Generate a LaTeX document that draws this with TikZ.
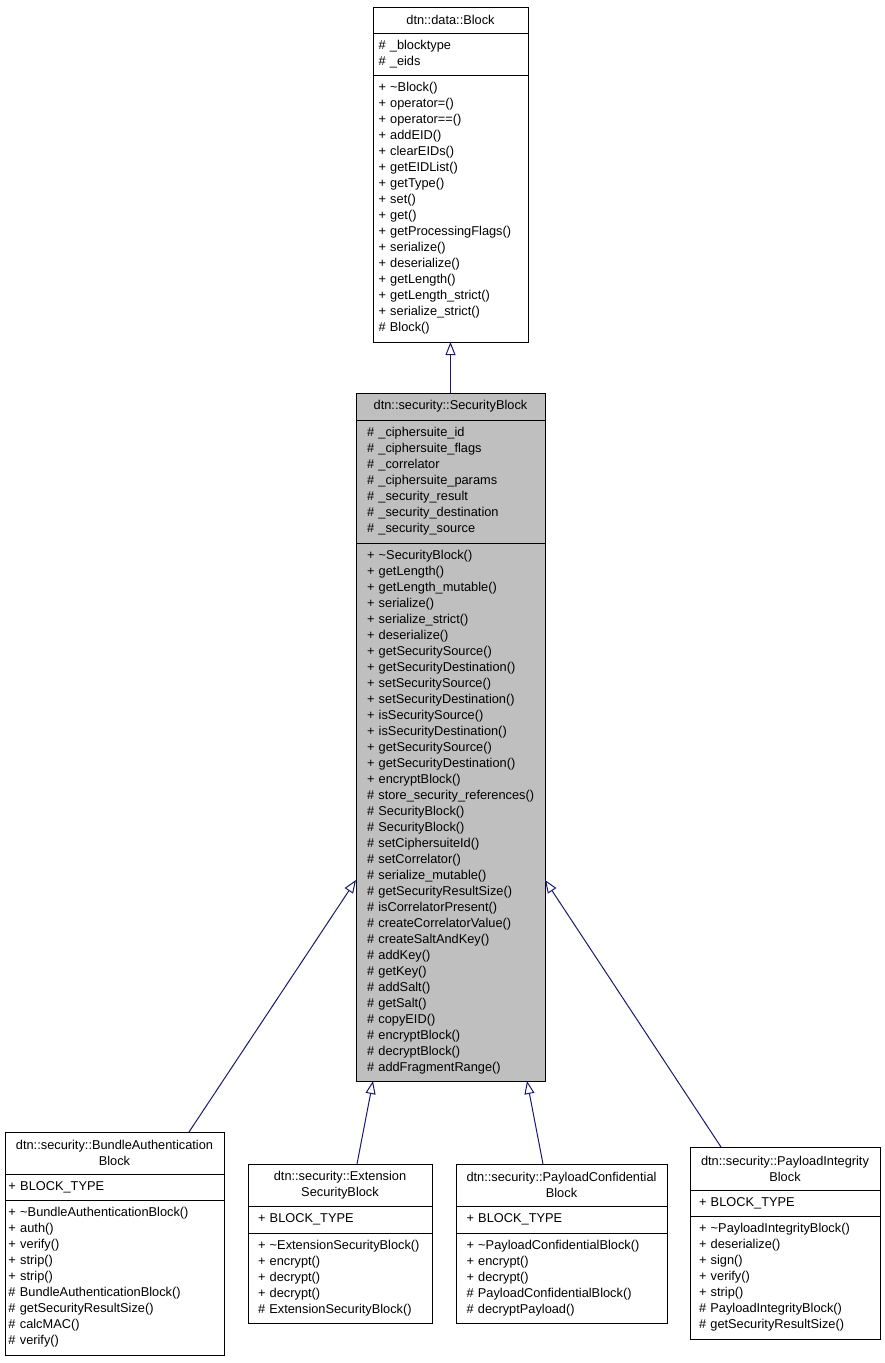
\documentclass[tikz,border=0pt]{standalone}
\usepackage{fontspec}
\setmainfont{Liberation Sans}
\usepackage{tikz}
\usetikzlibrary{arrows.meta,positioning}
\definecolor{edgeblue}{HTML}{191970}
\definecolor{focusgrey}{HTML}{BFBFBF}
\newcommand{\umlfont}{\fontsize{12.8}{16}\selectfont\hyphenpenalty=10000\exhyphenpenalty=10000}
\newcommand{\dtor}{\textasciitilde}

\begin{document}
\begin{tikzpicture}[x=1pt,y=-1pt,
  cell/.style={draw=black,line width=0.9pt,fill=#1,outer sep=0pt,inner ysep=1pt,font=\umlfont},
  ttl/.style n args={3}{cell=#3,align=center,inner xsep=4pt,text width=#1,minimum height=#2,anchor=north west},
  mem/.style n args={4}{cell=#4,align=left,inner xsep=#2,text width=#1,minimum height=#3},
  gen/.style={draw=edgeblue,line width=1pt,-{Triangle[length=13pt,width=10pt,fill=white]}}]
  \useasboundingbox (0,0) rectangle (885,1363);
  % base class
  \node[ttl={147pt}{26pt}{white}] (blkT) at (373,7) {dtn::data::Block};
  \node[mem={144pt}{5.5pt}{42pt}{white},below=0pt of blkT] (blkA) {\#~\_blocktype\\\#~\_eids};
  \node[mem={144pt}{5.5pt}{267pt}{white},below=0pt of blkA] (blkM) {+~\dtor Block()\\+~operator=()\\+~operator==()\\+~addEID()\\+~clearEIDs()\\+~getEIDList()\\+~getType()\\+~set()\\+~get()\\+~getProcessingFlags()\\+~serialize()\\+~deserialize()\\+~getLength()\\+~getLength\_strict()\\+~serialize\_strict()\\\#~Block()};
  % focus class
  \node[ttl={181pt}{27pt}{focusgrey}] (sbT) at (356,393) {dtn::security::SecurityBlock};
  \node[mem={167pt}{11pt}{123pt}{focusgrey},below=0pt of sbT] (sbA) {\#~\_ciphersuite\_id\\\#~\_ciphersuite\_flags\\\#~\_correlator\\\#~\_ciphersuite\_params\\\#~\_security\_result\\\#~\_security\_destination\\\#~\_security\_source};
  \node[mem={167pt}{11pt}{538pt}{focusgrey},below=0pt of sbA] (sbM) {+~\dtor SecurityBlock()\\+~getLength()\\+~getLength\_mutable()\\+~serialize()\\+~serialize\_strict()\\+~deserialize()\\+~getSecuritySource()\\+~getSecurityDestination()\\+~setSecuritySource()\\+~setSecurityDestination()\\+~isSecuritySource()\\+~isSecurityDestination()\\+~getSecuritySource()\\+~getSecurityDestination()\\+~encryptBlock()\\\#~store\_security\_references()\\\#~SecurityBlock()\\\#~SecurityBlock()\\\#~setCiphersuiteId()\\\#~setCorrelator()\\\#~serialize\_mutable()\\\#~getSecurityResultSize()\\\#~isCorrelatorPresent()\\\#~createCorrelatorValue()\\\#~createSaltAndKey()\\\#~addKey()\\\#~getKey()\\\#~addSalt()\\\#~getSalt()\\\#~copyEID()\\\#~encryptBlock()\\\#~decryptBlock()\\\#~addFragmentRange()};
  % derived classes
  \node[ttl={211pt}{42pt}{white}] (babT) at (5,1132) {dtn::security::BundleAuthentication\\Block};
  \node[mem={212pt}{3.5pt}{26pt}{white},below=0pt of babT] (babA) {+~BLOCK\_TYPE};
  \node[mem={212pt}{3.5pt}{155pt}{white},below=0pt of babA] (babM) {+~\dtor BundleAuthenticationBlock()\\+~auth()\\+~verify()\\+~strip()\\+~strip()\\\#~BundleAuthenticationBlock()\\\#~getSecurityResultSize()\\\#~calcMAC()\\\#~verify()};
  \node[ttl={176pt}{42pt}{white}] (esbT) at (248,1164) {dtn::security::Extension\\SecurityBlock};
  \node[mem={164pt}{10pt}{27pt}{white},below=0pt of esbT] (esbA) {+~BLOCK\_TYPE};
  \node[mem={164pt}{10pt}{90pt}{white},below=0pt of esbA] (esbM) {+~\dtor ExtensionSecurityBlock()\\+~encrypt()\\+~decrypt()\\+~decrypt()\\\#~ExtensionSecurityBlock()};
  \node[ttl={203pt}{42pt}{white}] (pcbT) at (456,1164) {dtn::security::PayloadConfidential\\Block};
  \node[mem={190pt}{10.5pt}{27pt}{white},below=0pt of pcbT] (pcbA) {+~BLOCK\_TYPE};
  \node[mem={190pt}{10.5pt}{90pt}{white},below=0pt of pcbA] (pcbM) {+~\dtor PayloadConfidentialBlock()\\+~encrypt()\\+~decrypt()\\\#~PayloadConfidentialBlock()\\\#~decryptPayload()};
  \node[ttl={182pt}{43pt}{white}] (pibT) at (690,1147) {dtn::security::PayloadIntegrity\\Block};
  \node[mem={172pt}{9pt}{26pt}{white},below=0pt of pibT] (pibA) {+~BLOCK\_TYPE};
  \node[mem={172pt}{9pt}{123pt}{white},below=0pt of pibA] (pibM) {+~\dtor PayloadIntegrityBlock()\\+~deserialize()\\+~sign()\\+~verify()\\+~strip()\\\#~PayloadIntegrityBlock()\\\#~getSecurityResultSize()};
  % inheritance
  \draw[gen] (sbT.north) -- (blkM.south);
  \draw[gen] ([xshift=184pt]babT.north west) -- ([yshift=-68pt]sbM.west);
  \draw[gen] ([xshift=109pt]esbT.north west) -- ([xshift=17pt]sbM.south west);
  \draw[gen] ([xshift=87pt]pcbT.north west) -- ([xshift=-18pt]sbM.south east);
  \draw[gen] ([xshift=31pt]pibT.north west) -- ([yshift=-68pt]sbM.east);
\end{tikzpicture}
\end{document}
